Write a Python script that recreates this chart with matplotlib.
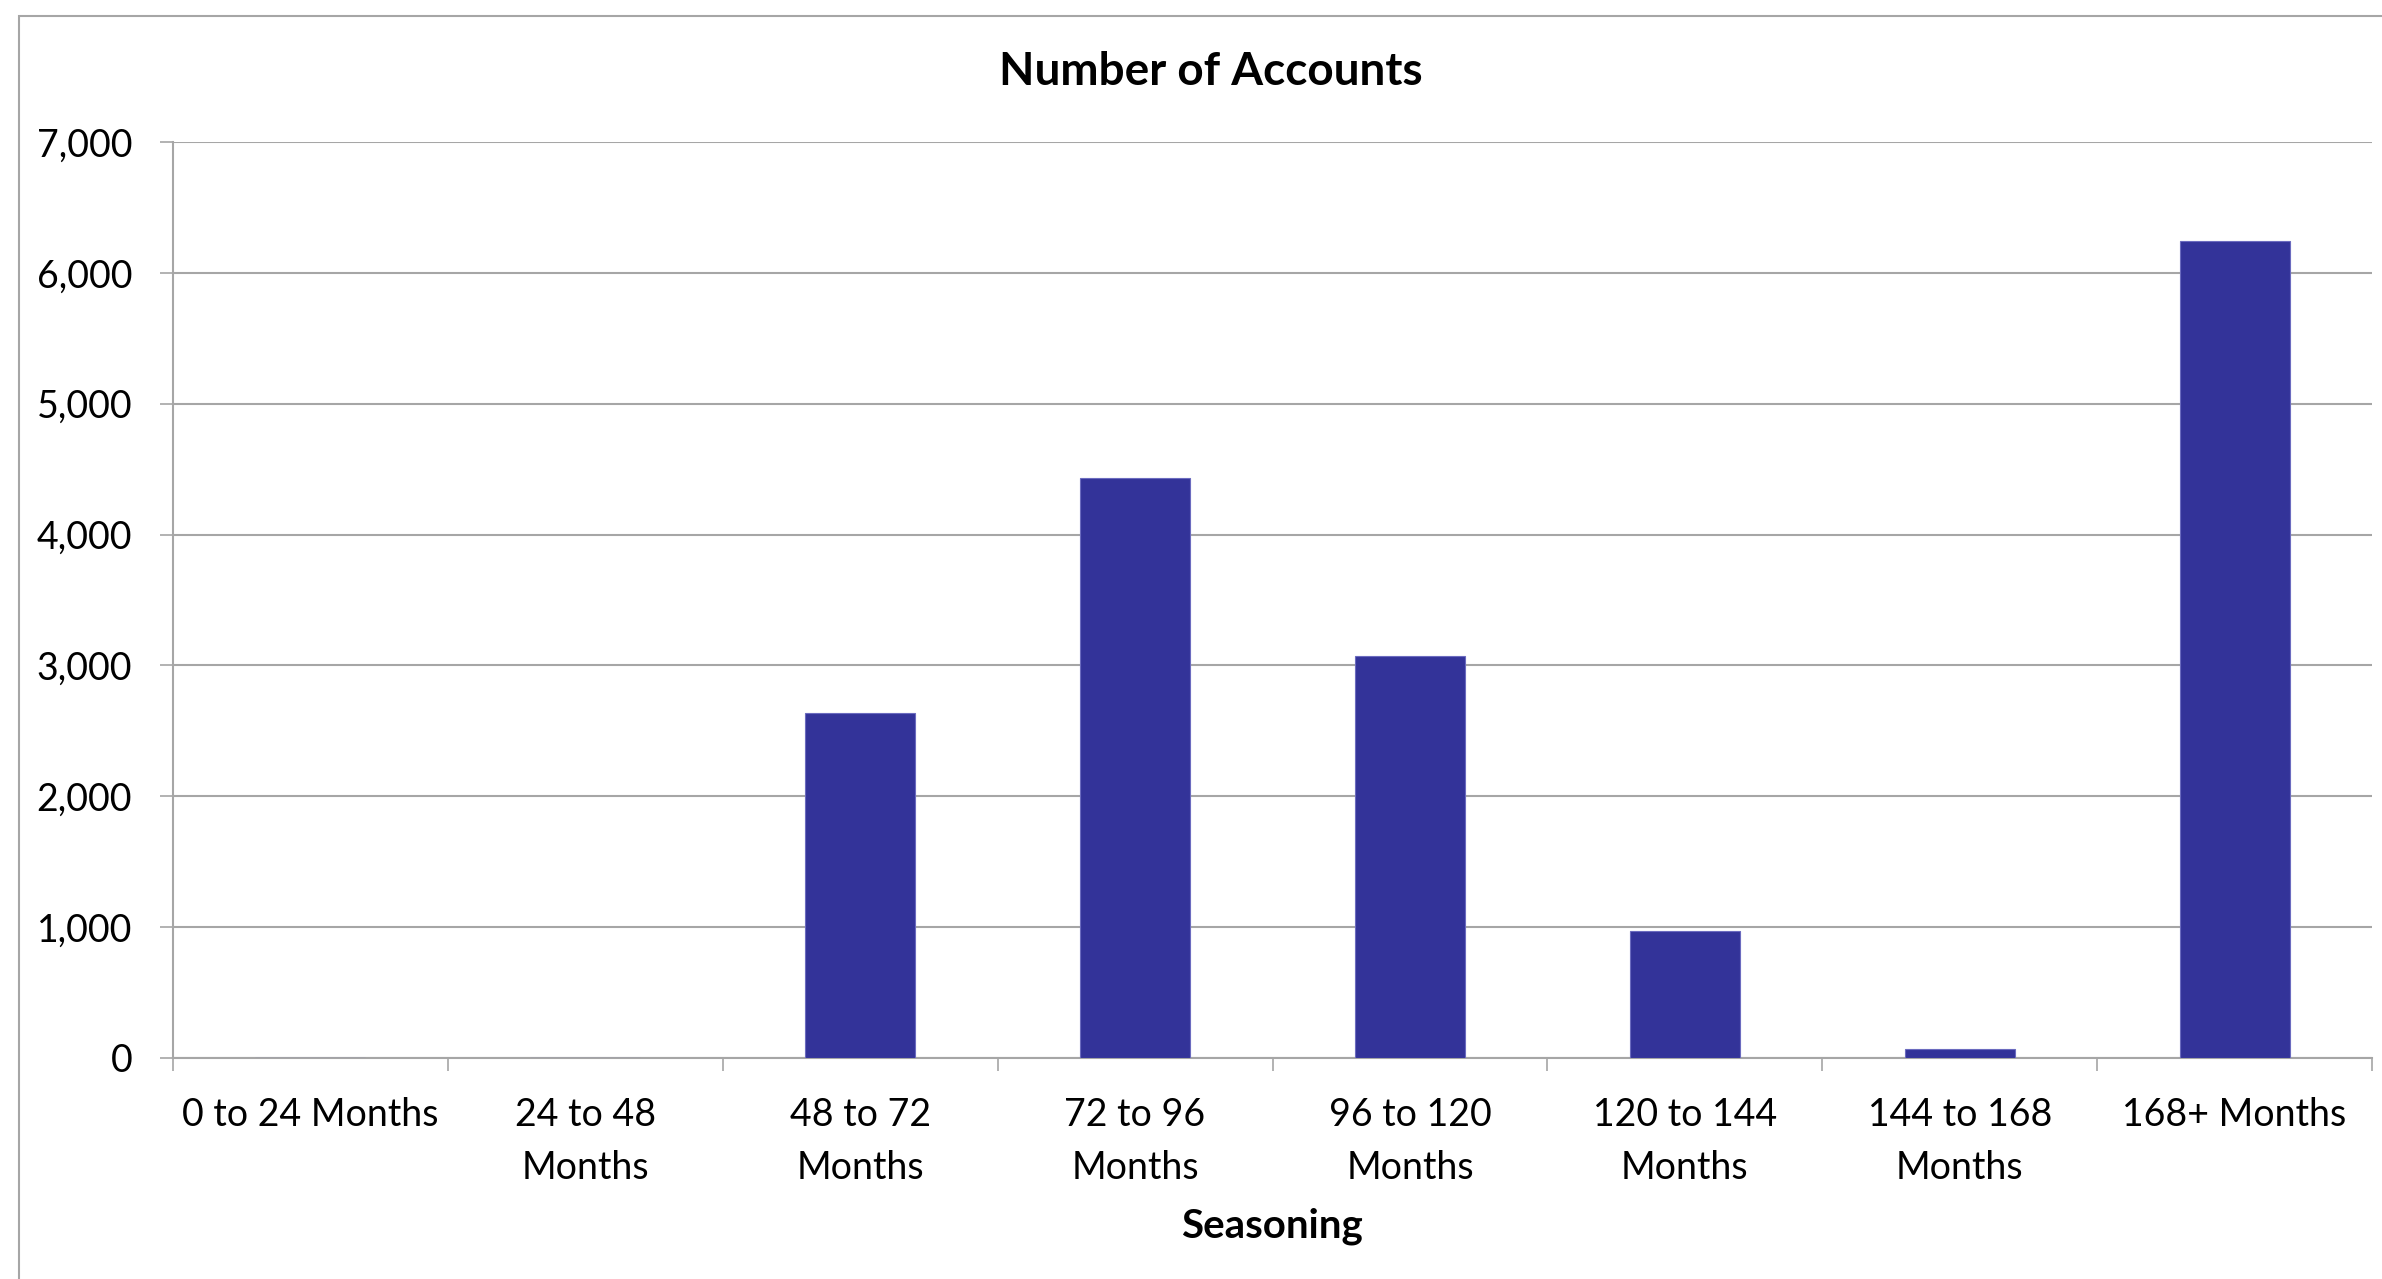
import matplotlib
matplotlib.use('Agg')
import matplotlib.pyplot as plt
from matplotlib.patches import Rectangle
from matplotlib.ticker import FuncFormatter, FixedLocator

# data
categories = ['0 to 24 Months', '24 to 48\nMonths', '48 to 72\nMonths',
              '72 to 96\nMonths', '96 to 120\nMonths', '120 to 144\nMonths',
              '144 to 168\nMonths', '168+ Months']
accounts = [0, 0, 2640, 4432, 3069, 968, 71, 6240]
y_ticks = [0, 1000, 2000, 3000, 4000, 5000, 6000, 7000]

plt.rcParams['font.family'] = ['Lato', 'DejaVu Sans']
grid_grey = '#a6a6a6'
bar_blue = '#333399'

W, H = 2382, 1279
fig = plt.figure(figsize=(W / 100, H / 100), dpi=100)

# outer chart border (runs off the right and bottom of the picture)
fig.patches.append(Rectangle((19 / W, -0.1), 1.2, 1 - 16 / H + 0.1,
                             transform=fig.transFigure, fill=False,
                             edgecolor=grid_grey, linewidth=1.5))

ax = fig.add_axes([173 / W, 1 - 1058 / H, (2372 - 173) / W, (1058 - 142) / H])

x = list(range(len(categories)))
ax.bar(x, accounts, width=0.4, color=bar_blue, edgecolor='#6b6bbf',
       linewidth=0.8, zorder=3)

ax.set_xlim(-0.5, len(categories) - 0.5)
ax.set_ylim(0, 7000)
ax.set_yticks(y_ticks)
ax.yaxis.set_major_formatter(FuncFormatter(lambda v, p: f'{int(v):,}'))
ax.yaxis.grid(True, color=grid_grey, linewidth=1.5, zorder=0)
ax.tick_params(axis='y', length=9.4, width=1.2, color=grid_grey,
               labelsize=27, pad=20)

ax.set_xticks(x)
ax.set_xticklabels(categories, fontsize=27, linespacing=1.6)
ax.xaxis.set_minor_locator(FixedLocator([i - 0.5 for i in range(len(categories) + 1)]))
ax.tick_params(axis='x', which='major', length=0, pad=28)
ax.tick_params(axis='x', which='minor', length=9.4, width=1.2, color=grid_grey)

for side in ['top', 'right']:
    ax.spines[side].set_visible(False)
for side in ['left', 'bottom']:
    ax.spines[side].set_color(grid_grey)
    ax.spines[side].set_linewidth(1.5)

fig.text(1211 / W, 1 - 72 / H, 'Number of Accounts', ha='center',
         va='center', fontsize=33, fontweight='bold')
fig.text(1272 / W, 1 - 1226 / H, 'Seasoning', ha='center', va='center',
         fontsize=29, fontweight='bold')

fig.savefig('out.png', dpi=100)
